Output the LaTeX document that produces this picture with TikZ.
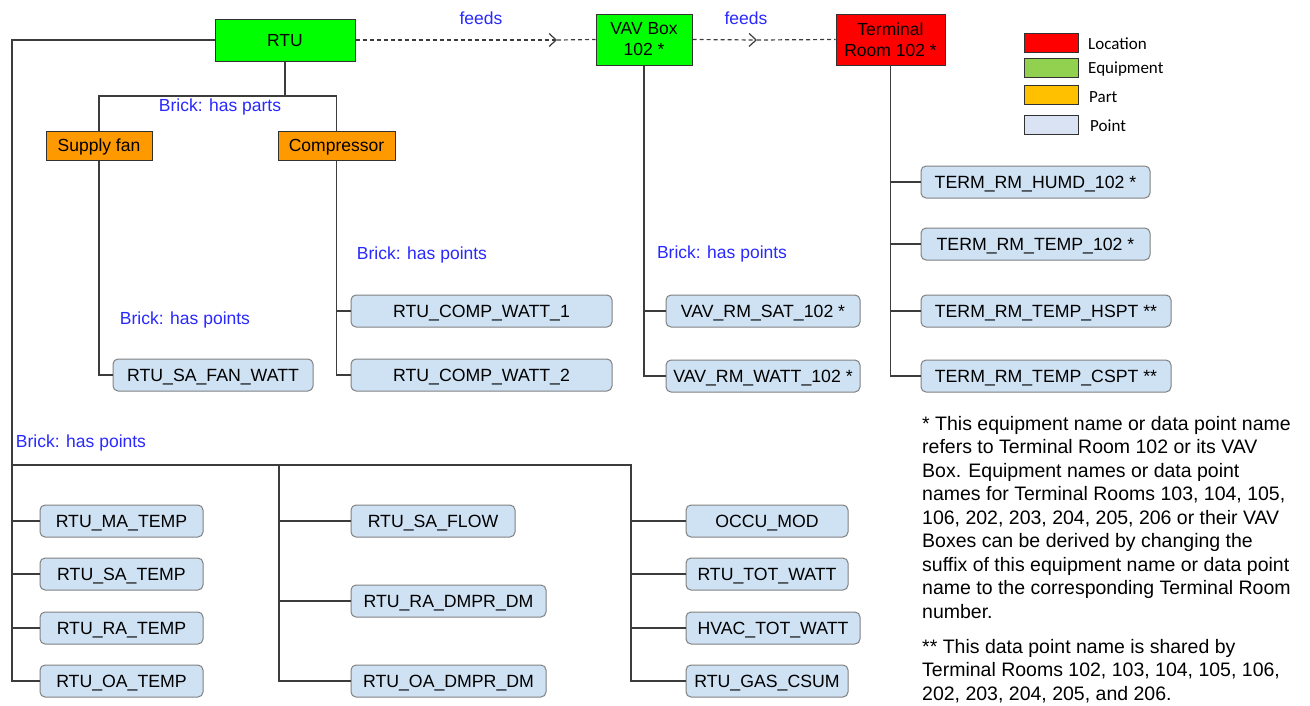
\documentclass[tikz,border=0pt]{standalone}
\usepackage{fontspec}
\setmainfont{Liberation Sans}
\newfontfamily\legfont{Carlito}
\usetikzlibrary{arrows.meta,calc}
\definecolor{lnk}{RGB}{40,40,255}
\definecolor{lncol}{RGB}{60,60,60}
\definecolor{bxb}{RGB}{50,50,50}
\definecolor{ptb}{RGB}{128,128,128}
\definecolor{ptfill}{RGB}{207,226,243}
\definecolor{eqgreen}{RGB}{0,255,0}
\definecolor{locred}{RGB}{255,0,0}
\definecolor{partor}{RGB}{255,153,0}
\definecolor{legeq}{RGB}{146,208,80}
\definecolor{legpart}{RGB}{255,192,0}
\definecolor{legpt}{RGB}{218,227,243}
\begin{document}
\begin{tikzpicture}[x=1pt,y=-1pt,
  ln/.style={draw=lncol, line width=1.3pt},
  feedln/.style={draw=lncol, line width=1.2pt, dash pattern=on 4pt off 3pt},
  ptbox/.style={draw=ptb, fill=ptfill, rounded corners=5pt, minimum height=32pt, inner sep=0pt, text height=12.6pt, text depth=0pt, line width=1pt, font=\fontsize{17.7}{21}\selectfont},
  topbox/.style={draw=bxb, line width=1pt, inner sep=0pt, align=center, font=\fontsize{17.5}{21}\selectfont},
  partbox/.style={draw=bxb, fill=partor, line width=1pt, inner sep=0pt, minimum height=29pt, text height=12.6pt, text depth=0pt, font=\fontsize{17.5}{21}\selectfont},
  lbl/.style={text=lnk, inner sep=0pt, font=\fontsize{17.5}{21}\selectfont},
  note/.style={align=left, inner sep=0pt, font=\fontsize{19.5}{23.5}\selectfont},
  legbox/.style={draw=bxb, line width=1pt, minimum width=54pt, minimum height=19pt, inner sep=0pt},
  legtxt/.style={inner sep=0pt, anchor=west, font=\legfont\fontsize{17}{20}\selectfont}
]
\useasboundingbox (0,0) rectangle (1310,705);

% top row
\node[topbox, fill=eqgreen, minimum width=140pt, minimum height=42pt, text height=12.6pt, text depth=0pt] (rtu) at (285,40) {RTU};
\node[topbox, fill=eqgreen, minimum width=96pt, minimum height=51pt] (vav) at (644,39.5) {VAV Box\\102 *};
\node[topbox, fill=locred, minimum width=109pt, minimum height=51pt] (trm) at (890.5,39.5) {Terminal\\Room 102 *};

\coordinate (m1) at (557,40);
\coordinate (m2) at (757,40);
\draw[feedln, -{Straight Barb[length=7pt,width=13pt]}] (rtu.east) -- (m1);
\draw[feedln] (m1) -- (vav.west);
\draw[feedln, -{Straight Barb[length=7pt,width=13pt]}] (vav.east) -- (m2);
\draw[feedln] (m2) -- (trm.west);
\node[lbl] (f1) at (481,18) {feeds};
\node[lbl] (f2) at (746,18) {feeds};

% legend
\node[legbox, fill=locred] (lg1) at (1051,42.5) {};
\node[legbox, fill=legeq] (lg2) at (1051,67.5) {};
\node[legbox, fill=legpart] (lg3) at (1051,94.5) {};
\node[legbox, fill=legpt] (lg4) at (1051,124.5) {};
\node[legtxt] (lt1) at (1088,44) {Location};
\node[legtxt] (lt2) at (1088,69) {Equipment};
\node[legtxt] (lt3) at (1089,97) {Part};
\node[legtxt] (lt4) at (1090,126) {Point};

% parts
\node[partbox, minimum width=106pt] (sf) at (99,145.5) {Supply fan};
\node[partbox, minimum width=117pt] (cmp) at (336.5,145.5) {Compressor};
\coordinate (pbus) at (285,96);
\draw[ln] (rtu.south) -- (pbus);
\draw[ln] (sf.north) -- (sf.north |- pbus) -- (cmp.north |- pbus) -- (cmp.north);
\node[lbl] (hp) at (220,107) {Brick: has parts};

% part points
\node[ptbox, minimum width=200pt] (fanw) at (213,375) {RTU\_SA\_FAN\_WATT};
\node[ptbox, minimum width=261pt] (cw1) at (481.5,311) {RTU\_COMP\_WATT\_1};
\node[ptbox, minimum width=261pt] (cw2) at (481.5,375) {RTU\_COMP\_WATT\_2};
\draw[ln] (sf.south) |- (fanw.west);
\draw[ln] (cmp.south) |- (cw2.west);
\draw[ln] (cmp.south |- cw1.west) -- (cw1.west);
\node[lbl] (hp1) at (185,320) {Brick: has points};
\node[lbl] (hp2) at (422,255) {Brick: has points};

% VAV points
\node[ptbox, minimum width=194pt] (vsat) at (763,311) {VAV\_RM\_SAT\_102 *};
\node[ptbox, minimum width=194pt] (vwatt) at (763,376) {VAV\_RM\_WATT\_102 *};
\draw[ln] (vav.south) |- (vwatt.west);
\draw[ln] (vav.south |- vsat.west) -- (vsat.west);
\node[lbl] (hp3) at (722,254) {Brick: has points};

% Terminal points
\node[ptbox, minimum width=229pt] (th) at (1035.5,182) {TERM\_RM\_HUMD\_102 *};
\node[ptbox, minimum width=229pt] (tt) at (1035.5,244) {TERM\_RM\_TEMP\_102 *};
\node[ptbox, minimum width=250pt] (ths) at (1046,311) {TERM\_RM\_TEMP\_HSPT **};
\node[ptbox, minimum width=250pt] (tcs) at (1046,376) {TERM\_RM\_TEMP\_CSPT **};
\draw[ln] (trm.south) |- (tcs.west);
\draw[ln] (trm.south |- th.west) -- (th.west);
\draw[ln] (trm.south |- tt.west) -- (tt.west);
\draw[ln] (trm.south |- ths.west) -- (ths.west);

% RTU points
\node[ptbox, minimum width=163pt] (mat) at (121.5,521) {RTU\_MA\_TEMP};
\node[ptbox, minimum width=163pt] (sat) at (121.5,574) {RTU\_SA\_TEMP};
\node[ptbox, minimum width=163pt] (rat) at (121.5,628) {RTU\_RA\_TEMP};
\node[ptbox, minimum width=163pt] (oat) at (121.5,681) {RTU\_OA\_TEMP};
\node[ptbox, minimum width=164pt] (saf) at (433,521) {RTU\_SA\_FLOW};
\node[ptbox, minimum width=195pt] (rad) at (448.5,601) {RTU\_RA\_DMPR\_DM};
\node[ptbox, minimum width=195pt] (oad) at (448.5,681) {RTU\_OA\_DMPR\_DM};
\node[ptbox, minimum width=162pt] (occ) at (767,521) {OCCU\_MOD};
\node[ptbox, minimum width=162pt] (tot) at (767,574) {RTU\_TOT\_WATT};
\node[ptbox, minimum width=174pt] (hvac) at (773,628) {HVAC\_TOT\_WATT};
\node[ptbox, minimum width=162pt] (gas) at (767,681) {RTU\_GAS\_CSUM};

\coordinate (lx) at (12,40);
\coordinate (c2) at (279,465);
\coordinate (c3) at (631,465);
\draw[ln] (rtu.west) -- (lx) |- (oat.west);
\draw[ln] (lx |- mat.west) -- (mat.west);
\draw[ln] (lx |- sat.west) -- (sat.west);
\draw[ln] (lx |- rat.west) -- (rat.west);
\draw[ln] (lx |- c3) -- (c3) |- (gas.west);
\draw[ln] (c2) |- (oad.west);
\draw[ln] (c2 |- saf.west) -- (saf.west);
\draw[ln] (c2 |- rad.west) -- (rad.west);
\draw[ln] (c3 |- occ.west) -- (occ.west);
\draw[ln] (c3 |- tot.west) -- (tot.west);
\draw[ln] (c3 |- hvac.west) -- (hvac.west);
\node[lbl] (hp4) at (81,443) {Brick: has points};

% notes
\node[note, anchor=north west] (n1) at (922,416) {* This equipment name or data point name\\
refers to Terminal Room 102 or its VAV\\
Box. Equipment names or data point\\
names for Terminal Rooms 103, 104, 105,\\
106, 202, 203, 204, 205, 206 or their VAV\\
Boxes can be derived by changing the\\
suffix of this equipment name or data point\\
name to the corresponding Terminal Room\\
number.};
\node[note, anchor=north west] (n2) at (922,639) {** This data point name is shared by\\
Terminal Rooms 102, 103, 104, 105, 106,\\
202, 203, 204, 205, and 206.};
\end{tikzpicture}
\end{document}
